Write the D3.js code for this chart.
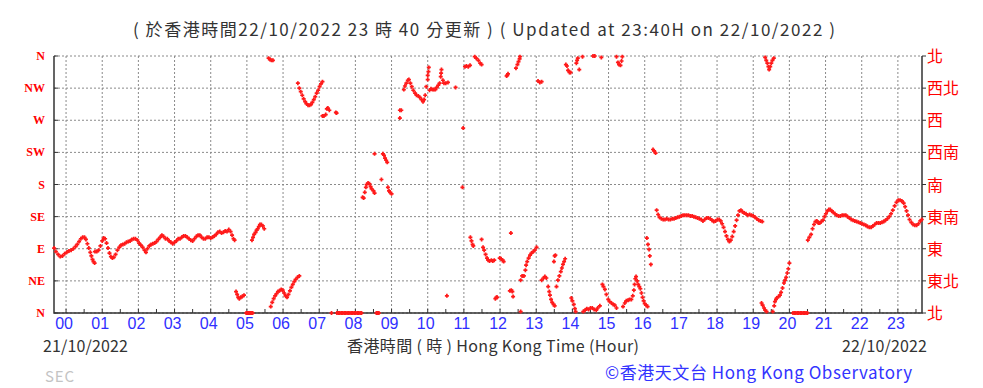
<!DOCTYPE html>
<html>
<head>
<meta charset="utf-8">
<script src="https://cdn.jsdelivr.net/npm/d3@7"></script>
<style>
  body { margin: 0; background: #fff; }
  svg { display: block; }
  .grid line { stroke: #8a8a8a; stroke-width: 1; stroke-dasharray: 2,2; }
  .frame { stroke: #333; stroke-width: 1.5; fill: none; }
  .tick { stroke: #333; stroke-width: 1; }
</style>
</head>
<body>
<svg id="chart" width="983" height="388"></svg>
<script>
// hour ticks along the bottom (00 = midnight 22/10/2022)
const hourTicks = d3.range(0, 24);

// direction labels, bottom (0 deg) to top (360 deg)
const dirDegrees = [0, 45, 90, 135, 180, 225, 270, 315, 360];
const dirLabelsEn = ['N', 'NE', 'E', 'SE', 'S', 'SW', 'W', 'NW', 'N'];
const dirLabelsZh = ['北', '東北', '東', '東南', '南', '西南', '西', '西北', '北'];

// readings: [hour since 00:00 22/10, direction in degrees]
const readings = [
  // before midnight through 00:45
  [-0.33,91],[-0.28,86],[-0.22,82],[-0.16,79],[-0.10,80],[-0.04,83],[0.02,85],[0.08,87],[0.14,88],
  [0.20,90],[0.26,93],[0.31,96],[0.36,100],[0.41,104],[0.46,106],[0.51,106],[0.55,103],[0.59,97],
  [0.63,91],[0.67,85],[0.70,80],[0.73,75],[0.76,72],[0.79,70],
  // 00:45 - 04:40, easterly
  [0.80,86],[0.85,86],[0.90,88],[0.95,94],[1.00,101],[1.04,105],[1.08,104],[1.12,98],[1.16,91],
  [1.20,84],[1.24,79],[1.28,77],[1.32,78],[1.37,82],[1.42,88],[1.47,92],[1.52,95],[1.57,96],
  [1.62,97],[1.67,99],[1.72,100],[1.77,101],[1.82,103],[1.87,104],[1.92,104],[1.97,102],[2.02,98],
  [2.07,95],[2.12,92],[2.17,88],[2.21,85],[2.25,90],[2.30,94],[2.35,96],[2.40,97],[2.45,98],
  [2.50,100],[2.55,103],[2.60,106],[2.65,109],[2.70,107],[2.75,104],[2.80,104],[2.85,101],[2.90,99],
  [2.95,97],[3.00,99],[3.05,101],[3.10,104],[3.15,104],[3.20,106],[3.25,108],[3.30,108],[3.35,106],
  [3.40,104],[3.45,102],[3.50,101],[3.55,104],[3.60,107],[3.65,109],[3.70,109],[3.75,106],[3.80,104],
  [3.85,104],[3.90,106],[3.95,106],[4.00,105],[4.05,106],[4.10,108],[4.15,110],[4.20,113],[4.25,114],
  [4.30,112],[4.35,113],[4.40,115],[4.45,114],[4.50,117],[4.55,114],[4.59,109],[4.63,104],[4.66,102],
  // around 05
  [4.70,30],[4.73,26],[4.76,22],[4.79,20],[4.83,22],[4.87,23],[4.92,25],
  [4.98,0],[5.01,0],[5.04,0],[5.07,0],[5.10,0],[5.13,0],[5.16,0],
  [5.14,102],[5.17,106],[5.20,110],[5.24,113],[5.27,116],[5.30,118],[5.33,121],[5.36,124],[5.40,124],
  [5.44,122],[5.48,118],
  [5.60,357],[5.64,355],[5.68,354],[5.72,354],
  [5.66,9],[5.70,15],[5.74,20],[5.78,24],[5.82,27],[5.86,30],[5.90,31],[5.95,33],[5.99,32],[6.03,28],
  [6.07,24],[6.11,22],[6.15,26],[6.19,31],[6.23,36],[6.27,40],[6.31,44],[6.35,47],[6.40,50],[6.45,52],
  // 06:25 - 07:30 north-westerly
  [6.41,322],[6.45,315],[6.49,310],[6.53,305],[6.57,300],[6.61,296],[6.65,293],[6.69,291],[6.73,291],
  [6.77,292],[6.81,295],[6.85,299],[6.89,303],[6.93,308],[6.97,312],[7.01,317],[7.05,321],[7.09,324],
  [7.09,276],[7.13,276],[7.18,278],[7.21,286],[7.24,287],[7.28,284],[7.46,281],[7.48,280],
  // calm
  [7.34,0],[7.49,0],[7.53,0],[7.57,0],[7.61,0],[7.65,0],[7.69,0],[7.73,0],[7.77,0],[7.81,0],[7.85,0],
  [7.89,0],[7.93,0],[7.97,0],[8.01,0],[8.05,0],[8.09,0],[8.13,0],[8.17,0],[8.58,0],[8.62,0],[8.65,0],
  // 08 - 09
  [8.20,162],[8.23,161],[8.26,169],[8.29,176],[8.31,180],[8.35,182],[8.39,181],[8.42,177],[8.45,174],
  [8.50,171],[8.53,168],[8.53,223],[8.72,187],[8.76,223],[8.79,221],[8.82,217],[8.85,214],[8.88,211],
  [8.90,176],[8.93,171],[8.96,169],[9.00,167],
  // 09 - 11
  [9.23,273],[9.23,284],[9.27,284],
  [9.34,313],[9.37,318],[9.41,322],[9.45,326],[9.48,327],[9.52,322],[9.56,317],[9.60,312],[9.65,308],
  [9.69,305],[9.74,304],[9.78,302],[9.83,299],[9.87,296],[9.90,299],[9.93,305],[9.96,317],
  [10.00,327],[10.00,333],[10.02,338],[10.03,344],
  [10.05,312],[10.09,314],[10.13,313],[10.17,313],[10.21,313],[10.25,316],[10.29,319],[10.33,322],
  [10.36,331],[10.37,336],[10.38,341],[10.42,326],[10.45,322],[10.50,322],[10.56,323],[10.77,316],
  [10.53,24],[10.96,176],[10.98,259],
  [11.03,345],[11.07,346],[11.12,345],[11.17,347],[11.30,359],[11.34,357],[11.40,354],[11.45,350],[11.49,348],
  // 11 - 13
  [11.18,106],[11.21,101],[11.24,96],[11.26,94],[11.49,103],[11.53,92],[11.56,88],[11.60,82],[11.64,77],
  [11.67,74],[11.71,73],[11.76,74],[11.80,73],[11.84,74],
  [11.87,20],[11.90,22],[11.92,22],
  [11.99,77],[12.03,76],[12.07,74],[12.10,72],
  [12.18,332],[12.20,333],[12.22,335],[12.30,112],
  [12.27,31],[12.31,32],[12.34,30],[12.36,23],
  [12.44,343],[12.48,348],[12.51,352],[12.54,356],[12.55,359],[12.57,2],
  [12.57,46],[12.61,52],[12.66,52],[12.70,60],[12.72,67],[12.75,72],[12.79,77],[12.83,81],[12.87,84],
  [12.92,86],[12.96,88],[13.01,92],
  [13.05,325],[13.10,323],[13.15,324],
  [13.15,46],[13.20,49],[13.24,51],[13.28,49],
  [13.33,37],[13.36,30],[13.38,25],[13.41,19],[13.44,15],[13.48,12],[13.51,10],
  [13.49,72],[13.51,80],[13.53,81],
  [13.56,37],[13.60,46],[13.64,52],[13.68,58],[13.71,63],[13.74,68],[13.77,72],[13.80,76],
  [13.82,348],[13.85,346],[13.88,340],[13.92,337],[13.95,337],
  // 14 - 16 light and variable
  [13.97,21],[14.00,17],[14.04,12],[14.07,6],[14.09,2],
  [14.11,350],[14.13,354],[14.15,357],[14.19,341],[14.28,359],
  [14.30,2],[14.35,4],[14.40,6],[14.45,5],[14.50,7],[14.55,7],[14.60,5],[14.66,4],[14.70,7],[14.76,10],
  [14.57,360],[14.62,360],[14.80,358],
  [14.83,40],[14.86,37],[14.90,33],[14.94,26],[14.99,19],[15.03,16],[15.08,14],[15.13,12],[15.17,11],[15.22,7],
  [15.22,359],[15.26,351],[15.29,348],[15.33,347],[15.36,353],[15.38,359],
  [15.40,9],[15.45,14],[15.49,17],[15.54,18],[15.58,19],[15.63,19],[15.67,24],[15.70,32],[15.72,40],
  [15.74,48],[15.76,51],[15.79,45],[15.82,40],[15.85,37],[15.88,34],[15.91,28],[15.94,22],[15.97,17],
  [16.00,13],[16.04,11],[16.08,9],
  [16.06,105],[16.09,96],[16.12,89],[16.14,80],[16.17,68],
  [16.23,229],[16.26,227],[16.30,224],
  // 16:20 - 19:15 south-easterly
  [16.33,144],[16.37,138],[16.41,134],[16.46,132],[16.51,131],[16.56,131],[16.61,132],[16.66,131],
  [16.71,131],[16.76,132],[16.81,132],[16.86,133],[16.91,134],[16.96,135],[17.01,136],[17.06,137],
  [17.11,137],[17.16,137],[17.21,137],[17.26,136],[17.31,136],[17.36,135],[17.41,134],[17.46,133],
  [17.51,132],[17.56,131],[17.61,129],[17.66,131],[17.71,133],[17.76,133],[17.81,132],[17.86,130],
  [17.91,128],[17.96,129],[18.01,131],[18.06,131],[18.10,129],[18.14,125],[18.18,120],[18.22,114],
  [18.26,108],[18.30,103],[18.34,100],[18.38,102],[18.42,107],[18.46,114],[18.50,122],[18.54,130],
  [18.58,137],[18.62,143],[18.66,144],[18.70,142],[18.75,140],[18.80,139],[18.85,137],[18.90,138],
  [18.95,137],[19.00,136],[19.05,134],[19.10,132],[19.15,130],[19.20,129],[19.25,128],
  // 19 - 20
  [19.23,14],[19.26,11],[19.30,7],[19.33,4],[19.37,2],
  [19.33,358],[19.36,354],[19.39,350],[19.42,345],[19.44,341],[19.47,345],[19.50,350],[19.53,354],[19.57,357],
  [19.54,2],[19.58,10],[19.60,16],[19.63,19],[19.65,21],[19.70,23],[19.74,25],[19.77,29],[19.81,35],
  [19.85,42],[19.88,46],[19.91,50],[19.94,56],[19.97,62],[20.00,70],
  [20.10,0],[20.14,0],[20.18,0],[20.22,0],[20.26,0],[20.30,0],[20.34,0],[20.38,0],[20.42,0],[20.46,0],[20.50,0],
  // 20:30 - 23:40 south-easterly
  [20.51,102],[20.55,106],[20.60,110],[20.64,118],[20.68,124],[20.72,128],[20.76,129],[20.80,126],
  [20.84,126],[20.88,128],[20.93,130],[20.97,135],[21.01,139],[21.05,143],[21.09,145],[21.13,145],
  [21.17,143],[21.21,141],[21.26,139],[21.31,137],[21.36,136],[21.41,136],[21.46,137],[21.51,137],
  [21.56,137],[21.61,135],[21.66,133],[21.71,131],[21.76,130],[21.81,129],[21.86,128],[21.91,127],
  [21.96,126],[22.01,125],[22.06,124],[22.11,123],[22.16,121],[22.21,120],[22.26,120],[22.31,122],
  [22.36,124],[22.41,126],[22.46,126],[22.51,126],[22.56,127],[22.61,128],[22.66,130],[22.71,132],
  [22.76,135],[22.81,139],[22.86,144],[22.91,150],[22.96,155],[23.01,158],[23.06,158],[23.11,157],
  [23.16,154],[23.20,149],[23.24,143],[23.28,137],[23.32,131],[23.37,127],[23.42,124],[23.47,123],
  [23.52,123],[23.57,125],[23.62,129],[23.66,131]
];

const titleText = '( 於香港時間22/10/2022 23 時 40 分更新 ) ( Updated at 23:40H on 22/10/2022 )';

const svg = d3.select('#chart');
const plot = { left: 54, right: 922, top: 56, bottom: 313 };

// 24 hour window ending at the update time 23:40
let x = d3.scaleLinear().domain([-1/3, 23 + 2/3]).range([plot.left, plot.right]);
let y = d3.scaleLinear().domain([0, 360]).range([plot.bottom, plot.top]);

// dotted grid
let grid = svg.append('g').attr('class', 'grid');
grid.selectAll('.h').data(dirDegrees).enter()
  .append('line')
    .attr('x1', plot.left).attr('x2', plot.right)
    .attr('y1', d => y(d)).attr('y2', d => y(d));
grid.selectAll('.v').data(hourTicks).enter()
  .append('line')
    .attr('x1', d => x(d)).attr('x2', d => x(d))
    .attr('y1', plot.top).attr('y2', plot.bottom);

// frame: left, right and bottom are solid
svg.append('path')
  .attr('class', 'frame')
  .attr('d', `M${plot.left},${plot.top}V${plot.bottom}H${plot.right}V${plot.top}`);

// small ticks: half hours along the bottom, direction ticks on both sides
let ticks = svg.append('g');
ticks.selectAll('.bt').data(d3.range(-0.5, 24, 0.5).filter(h => h > -1/3 && h < 23.67)).enter()
  .append('line').attr('class', 'tick')
    .attr('x1', d => x(d)).attr('x2', d => x(d))
    .attr('y1', plot.bottom).attr('y2', plot.bottom - 4);
ticks.selectAll('.lt').data(dirDegrees).enter()
  .append('line').attr('class', 'tick')
    .attr('x1', plot.left).attr('x2', plot.left + 4)
    .attr('y1', d => y(d)).attr('y2', d => y(d));
ticks.selectAll('.rt').data(dirDegrees).enter()
  .append('line').attr('class', 'tick')
    .attr('x1', plot.right).attr('x2', plot.right + 4)
    .attr('y1', d => y(d)).attr('y2', d => y(d));

// direction labels
svg.append('g').selectAll('text').data(dirDegrees).enter()
  .append('text')
    .attr('x', plot.left - 9)
    .attr('y', d => y(d) + 4)
    .attr('text-anchor', 'end')
    .attr('fill', '#ff0000')
    .style('font', 'bold 12px "Liberation Serif", serif')
    .text((d, i) => dirLabelsEn[i]);
svg.append('g').selectAll('text').data(dirDegrees).enter()
  .append('text')
    .attr('x', plot.right + 5)
    .attr('y', d => y(d) + 6)
    .attr('fill', '#ff0000')
    .style('font', '16px "Noto Sans CJK TC", sans-serif')
    .text((d, i) => dirLabelsZh[i]);

// hour labels
svg.append('g').selectAll('text').data(hourTicks).enter()
  .append('text')
    .attr('x', d => x(d) - 2)
    .attr('y', 329)
    .attr('text-anchor', 'middle')
    .attr('fill', '#2f2fff')
    .style('font', '16px "Liberation Sans", Arial, sans-serif')
    .text(d => d3.format('02d')(d));

// wind direction markers
svg.append('g').selectAll('path').data(readings).enter()
  .append('path')
    .attr('transform', d => `translate(${x(d[0])},${y(d[1])})`)
    .attr('d', 'M-2,0H2M0,-2V2')
    .attr('stroke', '#ff1a1a')
    .attr('stroke-width', 1.7);

// texts, stretched to the widths seen in the reference
function label(txt, px, py, anchor, fill, size, len) {
  let t = svg.append('text')
    .attr('x', px).attr('y', py)
    .attr('text-anchor', anchor)
    .attr('fill', fill)
    .style('font', size + 'px "Noto Sans CJK TC", sans-serif')
    .text(txt);
  if (len) t.attr('textLength', len).attr('lengthAdjust', 'spacing');
  return t;
}
const darkText = '#333';
label(titleText, 133, 36, 'start', darkText, 17, 702);
label('21/10/2022', 43, 352, 'start', darkText, 16, 85);
label('香港時間 ( 時 ) Hong Kong Time (Hour)', 347, 352, 'start', darkText, 16, 292);
label('22/10/2022', 842, 352, 'start', darkText, 16, 85);
label('SEC', 45, 382, 'start', '#c4c4c4', 15, 29);
label('©香港天文台 Hong Kong Observatory', 605, 379, 'start', '#3333ff', 17, 307);
</script>
</body>
</html>
